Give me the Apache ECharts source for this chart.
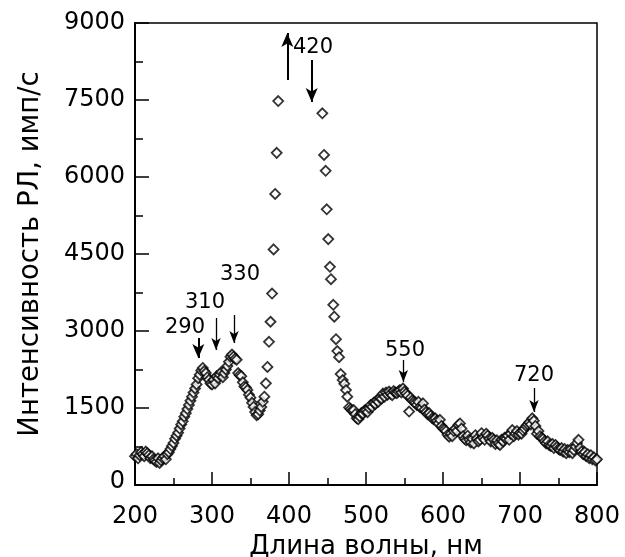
<!DOCTYPE html>
<html>
<head>
<meta charset="utf-8">
<script src="https://cdn.jsdelivr.net/npm/echarts@6/dist/echarts.min.js"></script>
<style>html,body{margin:0;padding:0;background:#fff}#c{width:625px;height:557px}</style>
</head>
<body>
<div id="c"></div>
<script>
// Wavelengths (nm)
var wavelength = [
200,202,204,206,208,210,212,214,216,218,220,222,224,226,228,230,232,234,236,238,240,242,244,
246,248,250,252,254,256,258,260,262,264,266,268,270,272,274,276,278,280,282,284,286,288,290,
292,294,296,298,300,302,304,306,308,310,312,314,316,318,320,322,324,326,328,330,332,334,336,
338,340,342,344,346,348,350,352,354,356,358,360,362,364,366,368,370,372,374,376,378,380,382,384,386,
443.3,445.5,447.6,449,451,453.2,454.5,457.5,458.8,461,462.8,465,467.1,469.7,471.8,474,475.7,
478,480,482,484,486,488,490,492,494,496,498,500,502,504,506,508,510,512,514,516,518,520,522,524,526,528,530,
532,534,536,538,540,542,544,546,548,550,552,554,556,558,560,562,564,566,568,570,572,574,576,578,580,
582,584,586,588,590,592,594,596,598,600,602,604,606,608,610,612,614,616,618,620,622,624,626,628,630,
632,634,636,638,640,642,644,646,648,650,652,654,656,658,660,662,664,666,668,670,672,674,676,678,680,
682,684,686,688,690,692,694,696,698,700,702,704,706,708,710,712,714,716,718,720,722,724,726,728,730,
732,734,736,738,740,742,744,746,748,750,752,754,756,758,760,762,764,766,768,770,772,774,776,778,780,
782,784,786,788,790,792,794,796,798,800
];
// RL intensity (counts/s)
var intensity = [
560,600,520,580,640,600,560,650,620,580,520,560,500,480,450,520,430,480,520,560,500,600,640,
700,760,820,900,960,1020,1100,1180,1240,1330,1400,1480,1560,1640,1720,1800,1880,1960,2080,2150,2230,2280,2220,
2180,2100,2050,1980,1960,2050,1980,2120,2080,2150,2200,2100,2180,2250,2320,2400,2500,2540,2500,2460,2440,2180,2140,
2120,2000,1920,1900,1850,1760,1700,1600,1520,1420,1360,1380,1450,1520,1620,1720,1980,2300,2790,3180,3730,4590,5670,6470,7480,
7240,6430,6120,5370,4790,4250,4010,3510,3280,2840,2610,2490,2160,2045,1970,1850,1720,
1510,1480,1450,1460,1380,1300,1280,1330,1400,1390,1450,1460,1420,1500,1560,1520,1600,1580,1650,1620,1700,1680,1780,1720,1800,1760,1820,
1780,1750,1830,1800,1790,1820,1850,1800,1880,1820,1780,1740,1430,1700,1650,1620,1600,1560,1620,1520,1500,1590,1470,1420,1380,
1400,1350,1300,1280,1300,1250,1200,1270,1150,1100,1080,1050,980,940,1000,950,1050,1100,1050,1170,1200,1100,950,900,870,
960,880,830,900,810,970,900,850,880,1010,920,880,1000,960,900,850,920,880,800,870,810,780,880,850,920,
900,960,880,1000,1070,950,1000,1050,980,1020,1000,1060,1100,1150,1180,1220,1180,1300,1250,1150,1000,1050,950,920,900,
850,810,850,780,760,800,720,780,740,700,680,720,650,700,620,680,640,700,620,680,750,820,880,720,650,
600,640,560,600,520,580,500,540,480,500
];
// Peak annotations: label, label anchor, arrow start, arrow end, arrow kind
var annotLabel = ['290','310','330','420','550','720'];
var annotText = [[264.9,3058],[290.9,3545],[336.4,4091],[431.2,8513],[550.6,2610],[718.2,2123]];
var arrowFrom = [[282.2,2864],[305.2,3253],[328.6,3312],[397.8,7889],[429.5,8279],[548.5,2435],[718.2,1890]];
var arrowTo   = [[282.2,2474],[305.2,2630],[328.6,2766],[397.8,8805],[429.5,7461],[548.5,2006],[718.2,1422]];
var arrowBold = [true,false,false,true,true,false,false];

var xTicks = {min:200, max:800, interval:100};
var yTicks = {min:0, max:9000, interval:1500};

var chart = echarts.init(document.getElementById('c'), null, {renderer:'canvas'});
var FONT = 'DejaVu Sans, sans-serif';
var points = wavelength.map(function(x,i){return [x, intensity[i]];});
var markData = arrowFrom.map(function(f,i){
  var bold = arrowBold[i];
  return [
    {coord:f, symbol:'none', lineStyle:{width: bold?2:1.3, color:'#000', type:'solid'}},
    {coord:arrowTo[i], symbol:'arrow', symbolSize: bold?[9,14]:[7,12]}
  ];
});
var textData = annotLabel.map(function(t,i){return {name:t, value:annotText[i]};});

chart.setOption({
  animation:false,
  backgroundColor:'#fff',
  grid:{left:135, right:28, top:23, bottom:72, containLabel:false, outerBoundsMode:'none',
    show:true, borderColor:'#000', borderWidth:1.5},
  xAxis:{
    type:'value', min:xTicks.min, max:xTicks.max, interval:xTicks.interval,
    name:'Длина волны, нм', nameLocation:'middle', nameGap:44,
    nameTextStyle:{fontFamily:FONT, fontSize:26, color:'#000'},
    axisLine:{show:true, lineStyle:{color:'#000', width:2}},
    axisTick:{show:true, inside:true, length:13, lineStyle:{color:'#000', width:1.5}},
    minorTick:{show:true, splitNumber:2, length:7, lineStyle:{color:'#000', width:1.5}},
    axisLabel:{fontFamily:FONT, fontSize:24, color:'#000', margin:20,
      formatter:function(v){return String(v);}},
    splitLine:{show:false}
  },
  yAxis:{
    type:'value', min:yTicks.min, max:yTicks.max, interval:yTicks.interval,
    name:'Интенсивность РЛ, имп/с', nameLocation:'middle', nameGap:90,
    nameTextStyle:{fontFamily:FONT, fontSize:27.5, color:'#000'},
    axisLine:{show:true, lineStyle:{color:'#000', width:2}},
    axisTick:{show:true, inside:true, length:14, lineStyle:{color:'#000', width:1.5}},
    minorTick:{show:true, splitNumber:2, length:8, lineStyle:{color:'#000', width:1.5}},
    axisLabel:{fontFamily:FONT, fontSize:24, color:'#000', margin:10,
      formatter:function(v){return v===0 ? '{z|0}' : '{n|'+v+'}';},
      rich:{
        n:{fontFamily:FONT, fontSize:24, color:'#000'},
        z:{fontFamily:FONT, fontSize:24, color:'#000', padding:[0,0,6,0]}
      }},
    splitLine:{show:false}
  },
  series:[
    {
      type:'scatter', data:points, symbol:'diamond', symbolSize:10,
      itemStyle:{color:'#fff', borderColor:'#000', borderWidth:1.8},
      markLine:{silent:true, animation:false, symbol:['none','arrow'], label:{show:false},
        lineStyle:{color:'#000', type:'solid'}, data:markData}
    },
    {
      type:'scatter', data:textData, symbolSize:0, itemStyle:{color:'#000', opacity:1},
      label:{show:true, position:'inside', formatter:'{b}', fontFamily:FONT, fontSize:21,
        color:'#000', textBorderWidth:0, opacity:1},
      silent:true
    }
  ]
});
</script>
</body>
</html>
